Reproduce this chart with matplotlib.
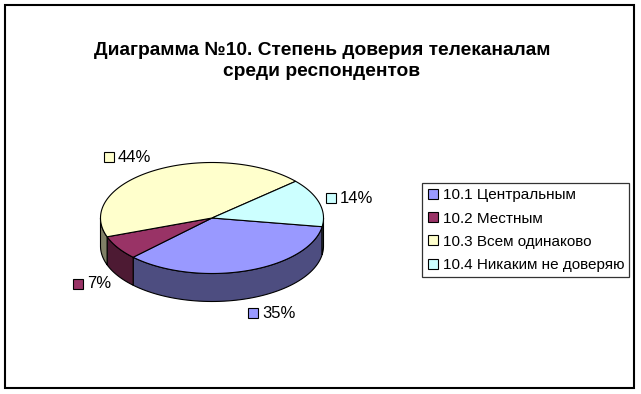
import numpy as np
import matplotlib.pyplot as plt
from matplotlib.patches import Polygon, Rectangle
from matplotlib.lines import Line2D

# данные
categories = ['10.1 Центральным', '10.2 Местным', '10.3 Всем одинаково', '10.4 Никаким не доверяю']
values = [35, 7, 44, 14]
labels = ['35%', '7%', '44%', '14%']
top_colors = ['#9999FF', '#993366', '#FFFFCC', '#CCFFFF']
side_colors = ['#4D4D80', '#4D1A33', '#808066', '#668080']

plt.rcParams['font.family'] = ['Liberation Sans', 'DejaVu Sans']

fig = plt.figure(figsize=(6.41, 3.94), dpi=100)
ax = fig.add_axes([0, 0, 1, 1])
ax.set_xlim(0, 641)
ax.set_ylim(394, 0)
ax.axis('off')
renderer = fig.canvas.get_renderer()

# геометрия псевдо-3D круга (в пикселях)
cx, cy = 212, 218
rx, ry = 111.5, 55.5
depth = 28
start = -9.0

def pt(a, dy=0):
    r = np.radians(a)
    return cx + rx * np.cos(r), cy - ry * np.sin(r) + dy

# углы секторов (по часовой стрелке)
angles = []
a = start
for v in values:
    a2 = a - v * 3.6
    angles.append((a2, a))
    a = a2

# боковые стенки (только передняя половина)
for (a1, a2), sc in zip(angles, side_colors):
    for lo, hi in [(-180, 0), (-540, -360)]:
        s, e = max(a1, lo), min(a2, hi)
        if s >= e:
            continue
        t = np.linspace(s, e, 60)
        top = [pt(x) for x in t]
        bot = [pt(x, depth) for x in t[::-1]]
        ax.add_patch(Polygon(top + bot, closed=True, facecolor=sc,
                             edgecolor='black', linewidth=0.8))

# верхние секторы
for (a1, a2), tc in zip(angles, top_colors):
    t = np.linspace(a1, a2, 100)
    verts = [(cx, cy)] + [pt(x) for x in t]
    ax.add_patch(Polygon(verts, closed=True, facecolor=tc,
                         edgecolor='black', linewidth=0.8))

# подписи процентов (снаружи, у края круга)
gap = 8
box = 9
h = 14
for (a1, a2), lab, tc in zip(angles, labels, top_colors):
    mid = (a1 + a2) / 2
    c, s = np.cos(np.radians(mid)), np.sin(np.radians(mid))
    px, py = pt(mid, depth if s < 0 else 0)
    yc = py - s * gap - s * h / 2
    t = ax.text(0, yc, lab, fontsize=12, ha='left', va='center')
    tw = t.get_window_extent(renderer).width
    w = box + 4 + tw
    left = px + c * gap if c > 0 else px + c * gap - w
    t.set_x(left + box + 4)
    ax.plot(left + box / 2, yc, marker='s', markersize=6.5, markerfacecolor=tc,
            markeredgecolor='black', markeredgewidth=0.8)

# заголовок
ax.text(322, 61, 'Диаграмма №10. Степень доверия телеканалам\nсреди респондентов',
        fontsize=13.8, fontweight='bold', ha='center', va='center',
        linespacing=1.3)

# легенда
handles = [Line2D([], [], linestyle='none', marker='s', markersize=7,
                  markerfacecolor=c, markeredgecolor='black', markeredgewidth=0.8)
           for c in top_colors]
leg = ax.legend(handles, categories, loc='upper left',
                bbox_to_anchor=(422 / 641, 1 - 183 / 394),
                bbox_transform=fig.transFigure, fontsize=11,
                frameon=True, fancybox=False, handlelength=0.7,
                handletextpad=0.3, borderpad=0.35, labelspacing=0.6,
                borderaxespad=0)
leg.get_frame().set_edgecolor('black')
leg.get_frame().set_linewidth(0.9)

# рамка
ax.add_patch(Rectangle((5, 5), 629, 383, fill=False, edgecolor='black', linewidth=1.5))

plt.savefig('out.png', dpi=100)
